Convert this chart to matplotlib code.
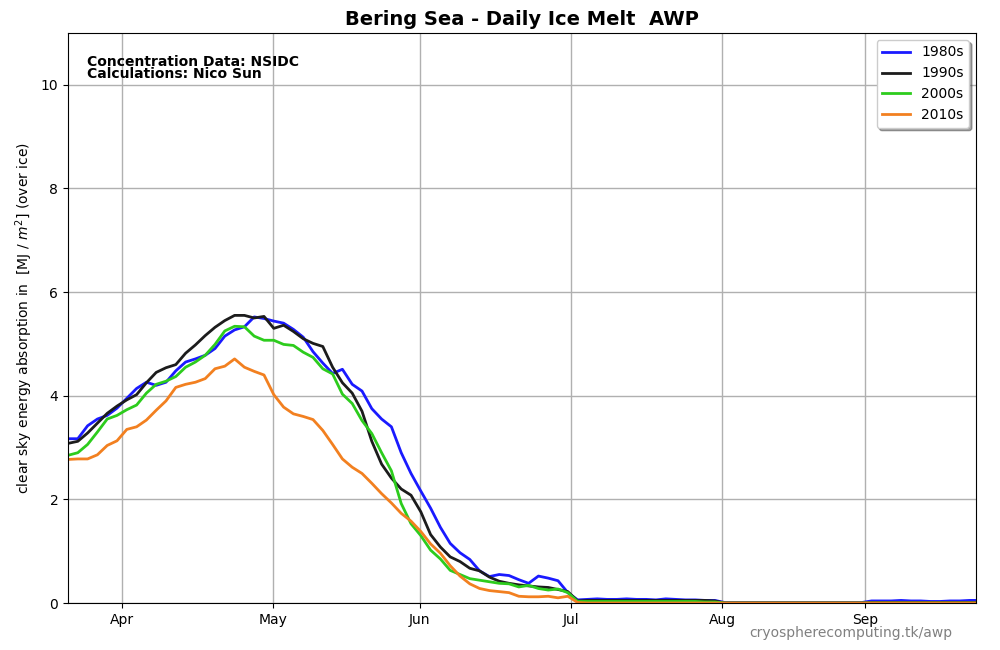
import numpy as np
import matplotlib
matplotlib.use('Agg')
import matplotlib.pyplot as plt

# day index (0 = first day shown), sampled every 2 days
days = np.arange(0, 188, 2)

awp_1980s = [3.17, 3.17, 3.42, 3.55, 3.62, 3.76, 3.95, 4.14, 4.26, 4.20,
             4.26, 4.48, 4.65, 4.71, 4.78, 4.91, 5.15, 5.27, 5.33, 5.52,
             5.49, 5.44, 5.40, 5.28, 5.13, 4.85, 4.63, 4.43, 4.51, 4.22,
             4.09, 3.75, 3.55, 3.40, 2.90, 2.50, 2.16, 1.83, 1.46, 1.15,
             0.97, 0.84, 0.62, 0.51, 0.55, 0.53, 0.45, 0.38, 0.52, 0.48,
             0.43, 0.20, 0.06,
             0.07, 0.08, 0.07, 0.07, 0.08, 0.07, 0.07, 0.06, 0.08, 0.07,
             0.06, 0.06, 0.05, 0.05,
             0.01, 0.01, 0.01, 0.01, 0.01, 0.01, 0.01, 0.01, 0.01, 0.01,
             0.01, 0.01, 0.01, 0.01, 0.01,
             0.04, 0.04, 0.04, 0.05, 0.04, 0.04, 0.03, 0.03, 0.04, 0.04, 0.05,
             0.05]

awp_1990s = [3.08, 3.12, 3.28, 3.47, 3.66, 3.80, 3.92, 4.02, 4.25, 4.45,
             4.54, 4.60, 4.82, 4.98, 5.16, 5.32, 5.45, 5.55, 5.55, 5.50,
             5.53, 5.30, 5.36, 5.24, 5.10, 5.01, 4.95, 4.55, 4.25, 4.05,
             3.70, 3.12, 2.68, 2.41, 2.20, 2.08, 1.76, 1.32, 1.08, 0.89,
             0.80, 0.67, 0.62, 0.50, 0.42, 0.38, 0.35, 0.33, 0.31, 0.30,
             0.26, 0.22, 0.04,
             0.05, 0.05, 0.05, 0.05, 0.05, 0.05, 0.05, 0.05, 0.05, 0.05,
             0.05, 0.05, 0.05, 0.04,
             0.0, 0.0, 0.0, 0.0, 0.0, 0.0, 0.0, 0.0, 0.0, 0.0,
             0.0, 0.0, 0.0, 0.0, 0.0,
             0.01, 0.01, 0.01, 0.01, 0.01, 0.01, 0.01, 0.01, 0.01, 0.01, 0.01,
             0.01]

awp_2000s = [2.85, 2.90, 3.06, 3.30, 3.55, 3.62, 3.73, 3.82, 4.05, 4.22,
             4.28, 4.37, 4.55, 4.65, 4.78, 4.99, 5.25, 5.34, 5.33, 5.15,
             5.07, 5.07, 4.99, 4.97, 4.84, 4.74, 4.52, 4.42, 4.03, 3.85,
             3.52, 3.27, 2.90, 2.55, 1.92, 1.53, 1.30, 1.02, 0.85, 0.63,
             0.55, 0.47, 0.44, 0.41, 0.38, 0.37, 0.31, 0.34, 0.28, 0.25,
             0.27, 0.20, 0.03,
             0.03, 0.03, 0.03, 0.03, 0.03, 0.03, 0.03, 0.03, 0.03, 0.03,
             0.03, 0.03, 0.02, 0.02,
             0.0, 0.0, 0.0, 0.0, 0.0, 0.0, 0.0, 0.0, 0.0, 0.0,
             0.0, 0.0, 0.0, 0.0, 0.0,
             0.0, 0.0, 0.0, 0.0, 0.0, 0.0, 0.0, 0.0, 0.0, 0.0, 0.0,
             0.0]

awp_2010s = [2.77, 2.78, 2.78, 2.86, 3.04, 3.13, 3.35, 3.40, 3.53, 3.72,
             3.90, 4.16, 4.22, 4.26, 4.33, 4.52, 4.57, 4.71, 4.55, 4.47,
             4.40, 4.02, 3.78, 3.65, 3.60, 3.54, 3.33, 3.06, 2.78, 2.62,
             2.50, 2.31, 2.11, 1.93, 1.73, 1.58, 1.38, 1.14, 0.96, 0.72,
             0.52, 0.37, 0.28, 0.24, 0.22, 0.20, 0.13, 0.12, 0.12, 0.13,
             0.10, 0.13, 0.01,
             0.0, 0.0, 0.0, 0.0, 0.0, 0.0, 0.0, 0.0, 0.0, 0.0,
             0.0, 0.0, 0.0, 0.0,
             0.0, 0.0, 0.0, 0.0, 0.0, 0.0, 0.0, 0.0, 0.0, 0.0,
             0.0, 0.0, 0.0, 0.0, 0.0,
             0.0, 0.0, 0.0, 0.0, 0.0, 0.0, 0.0, 0.0, 0.0, 0.0, 0.0,
             0.0]

month_ticks = [11.0, 41.8, 71.8, 102.7, 133.5, 162.7]
month_labels = ['Apr', 'May', 'Jun', 'Jul', 'Aug', 'Sep']

fig = plt.figure(figsize=(10, 6.5), dpi=100)
ax = fig.add_axes([0.068, 0.0723, 0.908, 0.877])

ax.plot(days, awp_1980s, color='#1a1aff', lw=2, label='1980s')
ax.plot(days, awp_1990s, color='#1c1c1c', lw=2, label='1990s')
ax.plot(days, awp_2000s, color='#2dcc1d', lw=2, label='2000s')
ax.plot(days, awp_2010s, color='#f28020', lw=2, label='2010s')

ax.set_xlim(0, 185.3)
ax.set_ylim(0, 11)
ax.set_yticks([0, 2, 4, 6, 8, 10])
ax.set_xticks(month_ticks)
ax.set_xticklabels(month_labels)
ax.grid(True, color='#b0b0b0', lw=1)
ax.set_axisbelow(True)

ax.set_title('Bering Sea - Daily Ice Melt  AWP', fontsize=14, fontweight='bold')
ax.set_ylabel('clear sky energy absorption in  [MJ / $m^2$] (over ice)', fontsize=10)
ax.text(0.021, 0.962, 'Concentration Data: NSIDC\nCalculations: Nico Sun',
        transform=ax.transAxes, fontsize=10, fontweight='bold',
        va='top', ha='left', linespacing=0.85)
ax.legend(loc='upper right', fancybox=True, shadow=True, fontsize=10)

fig.text(0.952, 0.026, 'cryospherecomputing.tk/awp', color='gray',
         fontsize=10, ha='right', va='center')

plt.savefig('out.png', dpi=100)
